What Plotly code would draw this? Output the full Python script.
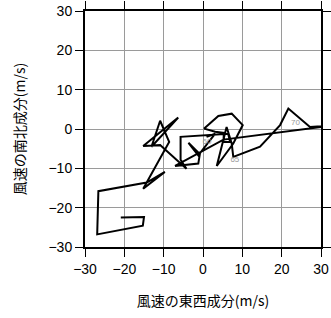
import plotly.graph_objects as go

# Hodograph vertices (east-west, north-south wind components, m/s)
u = [-20.9, -15.0, -15.3, -26.9, -26.6, -14.3, -9.7, -15.2, -8.6, -10.9,
     -13.1, -6.3, -15.2, -10.9, -4.2, -5.7, -5.7, 6.4, 6.9, 5.2,
     5.3, 3.1, 0.3, 3.9, 7.3, 10.1, 7.7, 3.5, 6.0, 7.3,
     7.7, 14.5, 19.6, 21.7, 27.2, 33.0, 5.2, -7.1, -1.2, -0.8,
     -3.7, -1.2, 3.1, 0.9]
v = [-22.5, -22.4, -24.6, -26.8, -15.8, -13.6, -10.9, -15.2, -3.3, 2.1,
     -4.5, 2.9, -4.3, -4.1, -10.1, -7.8, -2.0, -1.2, -3.3, -3.3,
     -1.0, -0.7, 0.1, 3.3, 3.9, 1.0, -3.7, -9.4, 0.5, -3.7,
     -7.1, -4.5, 1.0, 5.2, 0.5, 0.9, -2.7, -9.4, -8.8, -6.4,
     -3.5, -6.7, -1.2, -2.0]

label_u = [1.0, 8.1, 23.5]
label_v = [-3.3, -7.8, 1.4]
label_text = ["60", "65", "70"]

tick_vals = [-30, -20, -10, 0, 10, 20, 30]

fig = go.Figure()
fig.add_trace(go.Scatter(x=u, y=v, mode="lines",
                         line=dict(color="black", width=2),
                         hoverinfo="skip", showlegend=False))
fig.add_trace(go.Scatter(x=label_u, y=label_v, mode="text", text=label_text,
                         textfont=dict(size=8, color="#999999",
                                       family="Liberation Sans"),
                         hoverinfo="skip", showlegend=False))

axis_common = dict(range=[-30, 30], tickvals=tick_vals, showgrid=True,
                   gridcolor="#9a9a9a", gridwidth=1, zeroline=False,
                   showline=True, linecolor="black", linewidth=2,
                   mirror="ticks", ticks="outside", ticklen=8, tickwidth=1,
                   tickcolor="black", automargin=False,
                   tickfont=dict(family="Liberation Sans", size=14,
                                 color="black"))

fig.update_layout(
    width=331, height=318,
    margin=dict(l=85, r=10, t=11, b=71),
    paper_bgcolor="white", plot_bgcolor="white",
    xaxis=dict(**axis_common,
               title=dict(text="風速の東西成分(m/s)",
                          font=dict(family="Noto Sans CJK JP", size=14,
                                    color="black"),
                          standoff=20)),
    yaxis=dict(**axis_common,
               title=dict(text="風速の南北成分(m/s)",
                          font=dict(family="Noto Sans CJK JP", size=14,
                                    color="black"),
                          standoff=20)),
)

fig.write_html("out.html")
